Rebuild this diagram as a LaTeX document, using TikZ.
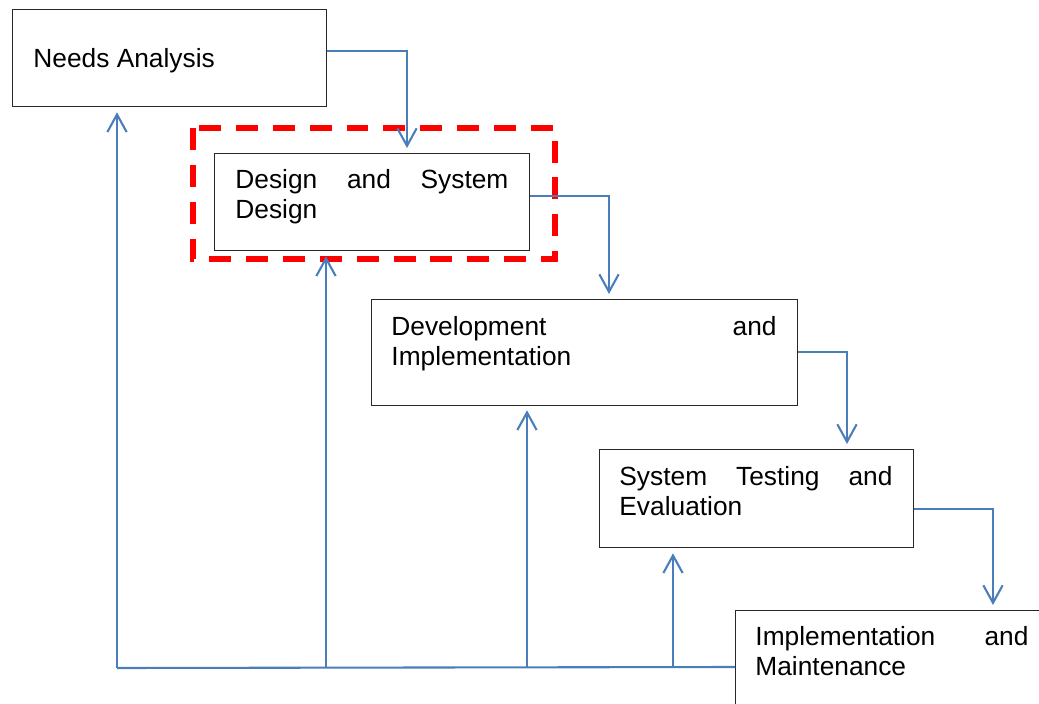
\documentclass[tikz,border=0pt]{standalone}
\usepackage{fontspec}
\setmainfont{Liberation Sans}
\usetikzlibrary{arrows.meta,calc}
\definecolor{connblue}{RGB}{74,126,187}
\definecolor{boxline}{RGB}{40,40,40}
\newcommand\jlthree[4]{\hbox to #1{#2\hfill#3\hfill#4}}
\newcommand\jltwo[3]{\hbox to #1{#2\hfill#3}}
\def\pxu{0.456pt}
\tikzset{
  stagebox/.style={draw=boxline,line width=0.6pt,fill=white,rectangle,anchor=north west,inner sep=0pt},
  stagetext/.style={inner sep=0pt,anchor=base west,align=left,font=\fontsize{12}{13.9}\selectfont},
  conn/.style={draw=connblue,line width=0.95pt,-{Straight Barb[length=8pt,width=8.8pt,line width=0.95pt]}},
  connline/.style={draw=connblue,line width=0.95pt},
  focus/.style={draw=red,line width=2.3pt,dash pattern=on 10pt off 6.8pt}
}
\begin{document}
\begin{tikzpicture}[x=0.456pt,y=-0.456pt]
\useasboundingbox (0,0) rectangle (1039,704);
\clip (0,0) rectangle (1039,704);
% boxes
\node[stagebox,minimum width=314*\pxu,minimum height=97*\pxu] (b1) at (12,9) {};
\node[stagebox,minimum width=315*\pxu,minimum height=97*\pxu] (b2) at (214,153) {};
\node[stagebox,minimum width=426*\pxu,minimum height=106*\pxu] (b3) at (371,299) {};
\node[stagebox,minimum width=314*\pxu,minimum height=98*\pxu] (b4) at (599,449) {};
\node[stagebox,minimum width=330*\pxu,minimum height=120*\pxu] (b5) at (735,610) {};
% focus frame
\draw[focus] (193,128) rectangle (555,259);
% texts
\node[stagetext] (t1) at (33,67) {Needs Analysis};
\node[stagetext,text width=124.5pt] (t2) at (235,188) {\jlthree{124.5pt}{Design}{and}{System}\\Design};
\node[stagetext,text width=175.6pt] (t3) at (391,335) {\jltwo{175.6pt}{Development}{and}\\Implementation};
\node[stagetext,text width=124.5pt] (t4) at (619,485) {\jlthree{124.5pt}{System}{Testing}{and}\\Evaluation};
\node[stagetext,text width=124.5pt] (t5) at (755,645) {\jltwo{124.5pt}{Implementation}{and}\\Maintenance};
% forward connectors
\draw[conn] ($(b1.north east)+(0,42)$) -| ($(b2.north west)+(193,-5)$);
\draw[conn] ($(b2.north east)+(0,43)$) -| ($(b3.north west)+(238,-5)$);
\draw[conn] ($(b3.north east)+(0,53)$) -| ($(b4.north west)+(248,-5)$);
\draw[conn] ($(b4.north east)+(0,60)$) -| ($(b5.north west)+(258,-5)$);
% feedback
\coordinate (f0) at (117,668);
\coordinate (f1) at (326,668);
\coordinate (f2) at (527,668);
\coordinate (f3) at (673,668);
\draw[connline] ($(b5.north west)+(0,57)$) -- (f0);
\draw[conn] (f0) -- ($(b1.south west)+(105,5)$);
\draw[conn] (f1) -- ($(b2.south west)+(112,5)$);
\draw[conn] (f2) -- ($(b3.south west)+(156,4)$);
\draw[conn] (f3) -- ($(b4.south west)+(74,5)$);
\end{tikzpicture}
\end{document}
